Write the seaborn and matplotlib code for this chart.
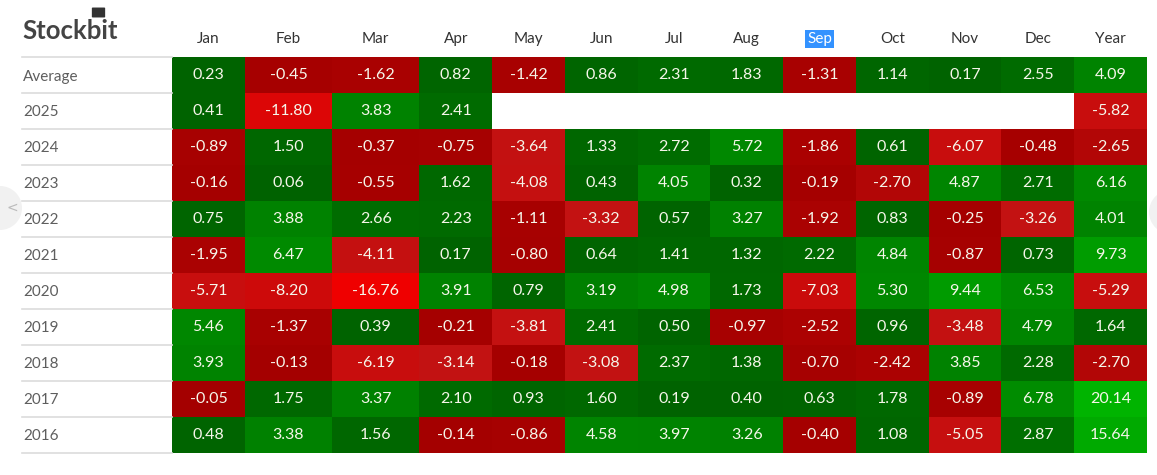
import numpy as np
import pandas as pd
import matplotlib
matplotlib.use("Agg")
import matplotlib.pyplot as plt
import seaborn as sns
from matplotlib.colors import LinearSegmentedColormap
from matplotlib.lines import Line2D
from matplotlib.patches import Ellipse, FancyBboxPatch

months = ["Jan", "Feb", "Mar", "Apr", "May", "Jun", "Jul", "Aug", "Sep",
          "Oct", "Nov", "Dec", "Year"]
rows = ["Average", "2025", "2024", "2023", "2022", "2021", "2020",
        "2019", "2018", "2017", "2016"]

nan = np.nan
avg_ret = [0.23, -0.45, -1.62, 0.82, -1.42, 0.86, 2.31, 1.83, -1.31, 1.14, 0.17, 2.55, 4.09]
ret_2025 = [0.41, -11.80, 3.83, 2.41, nan, nan, nan, nan, nan, nan, nan, nan, -5.82]
ret_2024 = [-0.89, 1.50, -0.37, -0.75, -3.64, 1.33, 2.72, 5.72, -1.86, 0.61, -6.07, -0.48, -2.65]
ret_2023 = [-0.16, 0.06, -0.55, 1.62, -4.08, 0.43, 4.05, 0.32, -0.19, -2.70, 4.87, 2.71, 6.16]
ret_2022 = [0.75, 3.88, 2.66, 2.23, -1.11, -3.32, 0.57, 3.27, -1.92, 0.83, -0.25, -3.26, 4.01]
ret_2021 = [-1.95, 6.47, -4.11, 0.17, -0.80, 0.64, 1.41, 1.32, 2.22, 4.84, -0.87, 0.73, 9.73]
ret_2020 = [-5.71, -8.20, -16.76, 3.91, 0.79, 3.19, 4.98, 1.73, -7.03, 5.30, 9.44, 6.53, -5.29]
ret_2019 = [5.46, -1.37, 0.39, -0.21, -3.81, 2.41, 0.50, -0.97, -2.52, 0.96, -3.48, 4.79, 1.64]
ret_2018 = [3.93, -0.13, -6.19, -3.14, -0.18, -3.08, 2.37, 1.38, -0.70, -2.42, 3.85, 2.28, -2.70]
ret_2017 = [-0.05, 1.75, 3.37, 2.10, 0.93, 1.60, 0.19, 0.40, 0.63, 1.78, -0.89, 6.78, 20.14]
ret_2016 = [0.48, 3.38, 1.56, -0.14, -0.86, 4.58, 3.97, 3.26, -0.40, 1.08, -5.05, 2.87, 15.64]

df = pd.DataFrame([avg_ret, ret_2025, ret_2024, ret_2023, ret_2022, ret_2021,
                   ret_2020, ret_2019, ret_2018, ret_2017, ret_2016],
                  index=rows, columns=months)

# relative column widths (Feb / Mar are wider in the original table)
col_units = [5, 6, 6, 5, 5, 5, 5, 5, 5, 5, 5, 5, 5]

# red/green scale, dark near zero, brighter for bigger moves
vmin, vmax = -17.0, 20.2
anchors = [(-17.0, "#f00000"), (-8.0, "#cc0a0a"), (-3.0, "#c21212"),
           (-2.6, "#ac0202"), (-0.001, "#a40000"), (0.001, "#006200"),
           (2.8, "#006c00"), (3.1, "#008000"), (6.5, "#008a00"),
           (9.5, "#009c00"), (20.2, "#00b400")]
cmap = LinearSegmentedColormap.from_list(
    "stockbit", [((v - vmin) / (vmax - vmin), c) for v, c in anchors])

W, H = 1157, 475
fig = plt.figure(figsize=(W / 100, H / 100), dpi=100)
fig.patch.set_facecolor("white")
ax = fig.add_axes([172 / W, 1 - 453 / H, (1147 - 172) / W, (453 - 57) / H])

wide = np.repeat(df.values, col_units, axis=1)
sns.heatmap(wide, ax=ax, cmap=cmap, vmin=vmin, vmax=vmax, cbar=False,
            xticklabels=False, yticklabels=False, linewidths=0)

centers = np.cumsum(col_units) - np.array(col_units) / 2
font = "Lato"

# cell values
for i, r in enumerate(rows):
    for j, m in enumerate(months):
        v = df.loc[r, m]
        if np.isnan(v):
            continue
        ax.text(centers[j], i + 0.5, f"{v:.2f}", ha="center", va="center",
                color="#f6f6ea", fontsize=11.5, family=font)

# column headers on top
ax.xaxis.tick_top()
ax.set_xticks(centers)
ax.set_xticklabels(months, fontsize=11, color="#333333", family=font)
ax.tick_params(axis="x", length=0, pad=8)
for lbl in ax.get_xticklabels():
    if lbl.get_text() == "Sep":
        lbl.set_color("white")
        lbl.set_bbox(dict(facecolor="#3392ff", edgecolor="none", pad=1.5))

# row labels left-aligned at the page margin
ax.set_yticks(np.arange(len(rows)) + 0.5)
ax.set_yticklabels(rows, fontsize=11, color="#5e5e5e", family=font, ha="left",
                   rotation=0)
ax.tick_params(axis="y", length=0, pad=(172 - 23) * 0.72)

# light separators in the label column
for k in range(len(rows) + 1):
    y = 1 - (57 + 36 * k) / H
    fig.add_artist(Line2D([22 / W, 172 / W], [y, y], transform=fig.transFigure,
                          color="#dcdcdc", lw=1.2))

# logo
fig.text(22 / W, 1 - 39 / H, "Stockbit", fontsize=18.5, color="#444444",
         family=font, fontweight="bold", ha="left", va="baseline")
fig.add_artist(FancyBboxPatch((93 / W, 1 - 17 / H), 11 / W, 9 / H,
                              boxstyle="round,pad=0.001", transform=fig.transFigure,
                              facecolor="#333333", edgecolor="none"))

# faint carousel arrows at the sides
fig.add_artist(Ellipse((0, 1 - 208 / H), 44 / W, 44 / H, transform=fig.transFigure,
                       facecolor="#f1f1f1", edgecolor="none", zorder=0))
fig.text(6 / W, 1 - 208 / H, "<", fontsize=10, color="#bbbbbb", va="center")
fig.add_artist(Ellipse((1 + 14 / W, 1 - 212 / H), 44 / W, 44 / H,
                       transform=fig.transFigure, facecolor="#f1f1f1",
                       edgecolor="none", zorder=0))

fig.savefig("out.png", dpi=100)
